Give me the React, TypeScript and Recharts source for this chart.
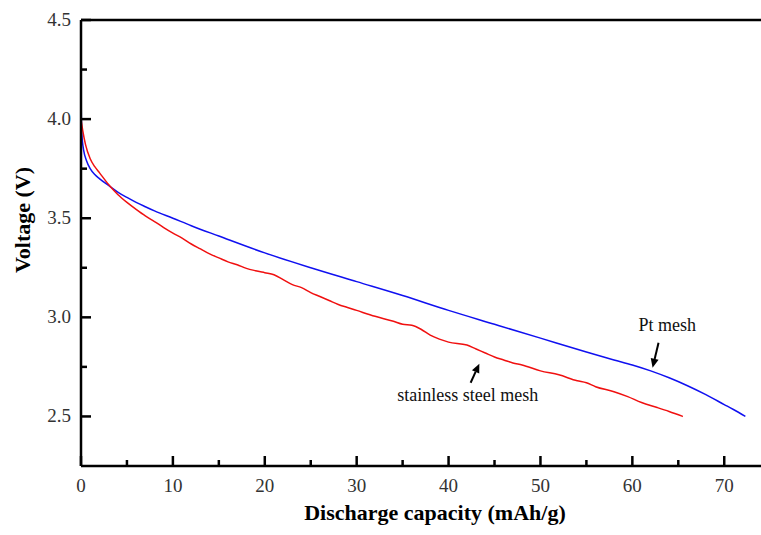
import { LineChart, Line, XAxis, YAxis, ReferenceLine, ReferenceDot } from 'recharts'

// Pt mesh discharge curve
const ptCap = [0, 0.05, 0.15, 0.3, 0.6, 1, 1.5, 2, 3, 4, 5, 6, 7, 8, 10, 12, 15, 20, 25, 30, 35, 40, 45, 50, 55, 58, 60, 62, 64, 66, 68, 70, 71, 72.3]
const ptVolt = [4.17, 3.96, 3.89, 3.84, 3.79, 3.75, 3.72, 3.7, 3.665, 3.632, 3.605, 3.58, 3.558, 3.537, 3.5, 3.462, 3.41, 3.325, 3.25, 3.18, 3.11, 3.035, 2.965, 2.895, 2.825, 2.785, 2.76, 2.73, 2.695, 2.655, 2.61, 2.56, 2.535, 2.5]

// stainless steel mesh discharge curve
const ssCap = [0, 0.2, 0.5, 1, 1.5, 2, 3, 4, 5, 6, 7, 8, 9, 10, 11, 12, 13, 14, 15, 16, 17, 18, 19, 20, 21, 22, 23, 24, 25, 26, 27, 28, 29, 30, 32, 34, 35, 36, 37, 38, 39, 40, 42, 43, 44, 45, 46, 47, 48, 50, 52, 54, 55, 56, 58, 59.5, 61, 62.7, 64, 65.5]
const ssVolt = [4.0, 3.94, 3.87, 3.8, 3.76, 3.73, 3.67, 3.62, 3.58, 3.545, 3.512, 3.483, 3.453, 3.425, 3.4, 3.37, 3.345, 3.32, 3.3, 3.28, 3.265, 3.247, 3.235, 3.225, 3.215, 3.19, 3.165, 3.15, 3.125, 3.105, 3.085, 3.065, 3.05, 3.035, 3.005, 2.98, 2.965, 2.96, 2.94, 2.91, 2.89, 2.875, 2.86, 2.84, 2.82, 2.8, 2.785, 2.77, 2.76, 2.73, 2.71, 2.68, 2.67, 2.65, 2.625, 2.6, 2.57, 2.545, 2.525, 2.5]

const xTicks = [0, 5, 10, 15, 20, 25, 30, 35, 40, 45, 50, 55, 60, 65, 70]
const yTicks = [2.5, 2.75, 3.0, 3.25, 3.5, 3.75, 4.0, 4.25, 4.5]

const ptData = ptCap.map((c, i) => ({ cap: c, v: ptVolt[i] }))
const ssData = ssCap.map((c, i) => ({ cap: c, v: ssVolt[i] }))

const serif = '"Liberation Serif", "Times New Roman", serif'

function XTick(props: any) {
  const { x, y, payload } = props
  const major = payload.value % 10 === 0
  return (
    <g>
      <line x1={x} y1={y} x2={x} y2={y - (major ? 10 : 6)} stroke="#000" strokeWidth={2.5} />
      {major && (
        <text x={x} y={y + 26} textAnchor="middle" fontFamily={serif} fontSize={19} fill="#333">
          {payload.value}
        </text>
      )}
    </g>
  )
}

function YTick(props: any) {
  const { x, y, payload } = props
  const major = Math.round(payload.value * 100) % 50 === 0
  return (
    <g>
      <line x1={x} y1={y} x2={x + (major ? 10 : 6)} y2={y} stroke="#000" strokeWidth={2.5} />
      {major && (
        <text x={x - 10} y={y + 6} textAnchor="end" fontFamily={serif} fontSize={19} fill="#333">
          {payload.value.toFixed(1)}
        </text>
      )}
    </g>
  )
}

function Arrow(props: any) {
  const { x1, y1, x2, y2 } = props
  const dx = x2 - x1
  const dy = y2 - y1
  const len = Math.sqrt(dx * dx + dy * dy)
  const ux = dx / len
  const uy = dy / len
  const hl = 9
  const hw = 4
  const bx = x2 - ux * hl
  const by = y2 - uy * hl
  return (
    <g>
      <line x1={x1} y1={y1} x2={bx} y2={by} stroke="#000" strokeWidth={2} />
      <polygon
        points={`${x2},${y2} ${bx - uy * hw},${by + ux * hw} ${bx + uy * hw},${by - ux * hw}`}
        fill="#000"
      />
    </g>
  )
}

const noteText = (text: string) => (p: any) => (
  <text x={p.cx} y={p.cy} textAnchor="middle" fontFamily={serif} fontSize={18} fill="#111">
    {text}
  </text>
)

export default function App() {
  return (
    <div style={{ position: 'absolute', left: 0, top: 0 }}>
      <LineChart width={761} height={535} margin={{ top: 20, right: 0, bottom: 39, left: 21 }}>
        <XAxis
          type="number"
          dataKey="cap"
          domain={[0, 74]}
          ticks={xTicks}
          interval={0}
          height={30}
          allowDataOverflow
          tickSize={0}
          tickMargin={0}
          tickLine={false}
          axisLine={{ stroke: '#000', strokeWidth: 2.5 }}
          tick={<XTick />}
        />
        <YAxis
          type="number"
          dataKey="v"
          domain={[2.25, 4.5]}
          ticks={yTicks}
          interval={0}
          width={60}
          allowDataOverflow
          tickSize={0}
          tickMargin={0}
          tickLine={false}
          axisLine={{ stroke: '#000', strokeWidth: 2.5 }}
          tick={<YTick />}
        />
        <ReferenceLine y={4.5} stroke="#000" strokeWidth={2.5} />
        <Line data={ptData} dataKey="v" type="monotone" stroke="#1010f0" strokeWidth={1.5} dot={false} isAnimationActive={false} />
        <Line data={ssData} dataKey="v" type="monotone" stroke="#f01010" strokeWidth={1.5} dot={false} isAnimationActive={false} />
        <ReferenceLine segment={[{ x: 62.85, y: 2.872 }, { x: 62.2, y: 2.746 }]} shape={Arrow} />
        <ReferenceLine segment={[{ x: 42.4, y: 2.67 }, { x: 43.35, y: 2.766 }]} shape={Arrow} />
        <ReferenceDot x={63.8} y={2.931} r={1} shape={noteText('Pt mesh')} />
        <ReferenceDot x={42.1} y={2.578} r={1} shape={noteText('stainless steel mesh')} />
        <text x={22} y={220} transform="rotate(-90 22 220)" textAnchor="middle" dominantBaseline="central" fontFamily={serif} fontSize={22} fontWeight="bold" fill="#000">
          Voltage (V)
        </text>
        <text x={435} y={520} textAnchor="middle" fontFamily={serif} fontSize={22} fontWeight="bold" fill="#000">
          Discharge capacity (mAh/g)
        </text>
      </LineChart>
    </div>
  )
}
